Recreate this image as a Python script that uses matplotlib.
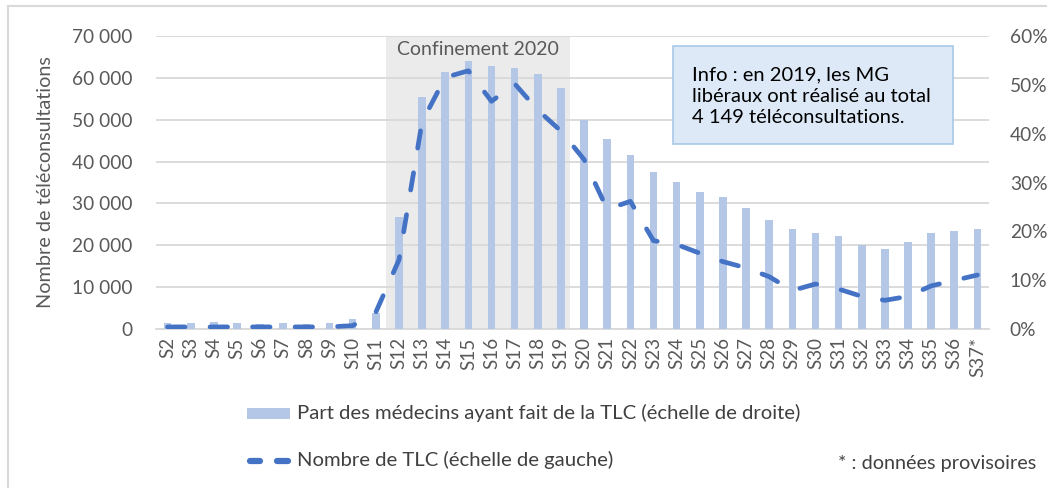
import matplotlib
matplotlib.use("Agg")
import matplotlib.pyplot as plt
from matplotlib.patches import Rectangle
from matplotlib.lines import Line2D
from matplotlib.ticker import FuncFormatter, MultipleLocator

plt.rcParams['font.family'] = ['Lato', 'DejaVu Sans']

weeks = ['S2', 'S3', 'S4', 'S5', 'S6', 'S7', 'S8', 'S9', 'S10', 'S11', 'S12', 'S13',
         'S14', 'S15', 'S16', 'S17', 'S18', 'S19', 'S20', 'S21', 'S22', 'S23', 'S24',
         'S25', 'S26', 'S27', 'S28', 'S29', 'S30', 'S31', 'S32', 'S33', 'S34', 'S35',
         'S36', 'S37*']
part_medecins = [1.2, 1.2, 1.4, 1.2, 1.1, 1.2, 1.1, 1.2, 2.0, 3.3, 22.9, 47.5,
                 52.7, 54.9, 53.9, 53.5, 52.2, 49.3, 42.8, 39.0, 35.6, 32.2, 30.2,
                 28.0, 27.0, 24.8, 22.3, 20.4, 19.6, 19.0, 17.2, 16.4, 17.8, 19.6,
                 20.1, 20.4]
nombre_tlc = [500, 500, 500, 500, 500, 500, 500, 500, 800, 4000, 16500, 49500,
              60100, 61700, 54400, 58600, 52300, 47300, 40500, 28600, 30500, 21100,
              20200, 18100, 16100, 14600, 12500, 9200, 10750, 9550, 7800, 6850, 7800,
              10300, 11600, 12900]

bar_color = '#b4c7e7'
line_color = '#4472c4'
grid_color = '#d9d9d9'
tick_color = '#595959'
text_color = '#404040'

fig = plt.figure(figsize=(10.47, 4.88), dpi=100)
ax = fig.add_axes([156/1047, 1-329/488, (989-156)/1047, (329-36)/488])
ax2 = ax.twinx()

x = list(range(len(weeks)))

# confinement shading
ax.axvspan(9.45, 17.4, color='#ebebeb', zorder=0, lw=0)
ax.text(13.4, 66800, 'Confinement 2020', ha='center', va='center',
        fontsize=14, color=tick_color, zorder=5)

ax.set_ylim(0, 70000)
ax.set_xlim(-0.5, len(weeks) - 0.5)
ax.yaxis.set_major_locator(MultipleLocator(10000))
ax.yaxis.set_major_formatter(FuncFormatter(lambda v, p: f"{int(v):,}".replace(',', ' ')))
ax.grid(axis='y', color=grid_color, lw=1.3, zorder=1)
ax.set_axisbelow(True)

ax2.bar(x, part_medecins, width=0.33, color=bar_color, zorder=2)
ax2.set_ylim(0, 60)
ax2.yaxis.set_major_locator(MultipleLocator(10))
ax2.yaxis.set_major_formatter(FuncFormatter(lambda v, p: f"{int(v)}%"))

ax2.plot(x, [v * 60 / 70000 for v in nombre_tlc], color=line_color, lw=3.4,
         linestyle=(0, (3.7, 5.3)), dash_capstyle='round', zorder=4)

for a in (ax, ax2):
    for s in a.spines.values():
        s.set_visible(False)
ax.spines['bottom'].set_visible(True)
ax.spines['bottom'].set_color(grid_color)
ax.spines['bottom'].set_linewidth(1.3)

ax.set_xticks(x)
ax.set_xticklabels(weeks, rotation=90, fontsize=13.5, color=tick_color)
ax.tick_params(axis='x', length=0, pad=6)
ax.tick_params(axis='y', length=0, labelsize=13.8, labelcolor=tick_color, pad=17)
ax2.tick_params(axis='y', length=0, labelsize=13.8, labelcolor=tick_color, pad=15)
ax.set_ylabel('Nombre de téléconsultations', fontsize=14.3, color=tick_color)
ax.yaxis.set_label_coords(-0.122, 0.5)

# info box
box = Rectangle((673/1047, 1-144/488), (953-673)/1047, (144-46)/488,
                transform=fig.transFigure, facecolor='#dde9f6', edgecolor='#a9c8ea',
                lw=1.2, zorder=10)
fig.add_artist(box)
fig.text(692/1047, 1-96.5/488,
         'Info : en 2019, les MG\nlibéraux ont réalisé au total\n4 149 téléconsultations.',
         ha='left', va='center', fontsize=14.5, color='black', linespacing=1.3, zorder=11)

# legend
fig.add_artist(Rectangle((247/1047, 1-419/488), 43/1047, 11/488,
                         transform=fig.transFigure, facecolor=bar_color, lw=0))
fig.text(297/1047, 1-413/488, 'Part des médecins ayant fait de la TLC (échelle de droite)',
         ha='left', va='center', fontsize=14.6, color=text_color)
fig.add_artist(Line2D([250/1047, 260/1047], [1-461/488, 1-461/488], transform=fig.transFigure,
                      color=line_color, lw=4.5, solid_capstyle='round'))
fig.add_artist(Line2D([277/1047, 288/1047], [1-461/488, 1-461/488], transform=fig.transFigure,
                      color=line_color, lw=4.5, solid_capstyle='round'))
fig.text(297/1047, 1-460/488, 'Nombre de TLC (échelle de gauche)',
         ha='left', va='center', fontsize=14.6, color=text_color)
fig.text(838/1047, 1-464/488, '* : données provisoires',
         ha='left', va='center', fontsize=14.3, color=text_color)

# outer frame (partially visible)
fig.add_artist(Line2D([8/1047, 8/1047], [0, 1-6/488], transform=fig.transFigure,
                      color='#d9d9d9', lw=1.5))
fig.add_artist(Line2D([8/1047, 1], [1-6/488, 1-6/488], transform=fig.transFigure,
                      color='#d9d9d9', lw=1.5))

fig.savefig('out.png', dpi=100)
